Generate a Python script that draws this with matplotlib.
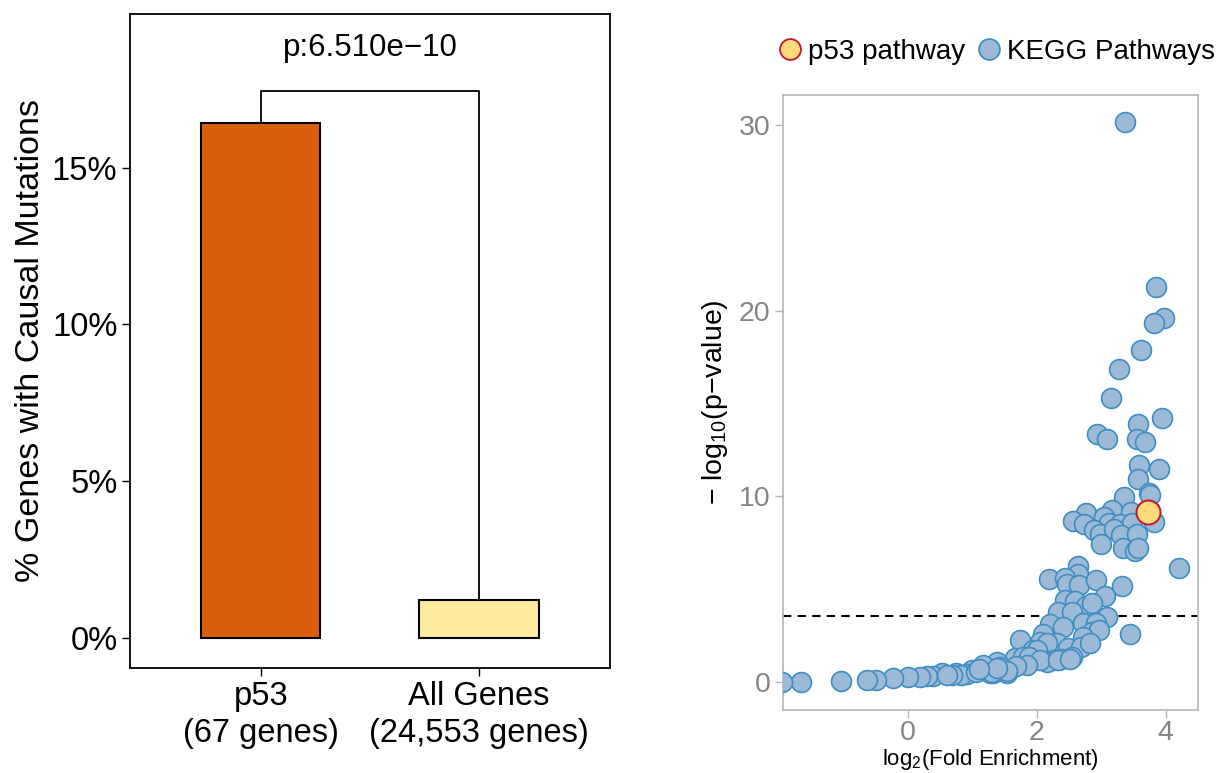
import matplotlib
matplotlib.use("Agg")
import matplotlib.pyplot as plt
from matplotlib.lines import Line2D

plt.rcParams['font.family'] = ['Liberation Sans', 'DejaVu Sans']
plt.rcParams['mathtext.fontset'] = 'custom'
plt.rcParams['mathtext.rm'] = 'Liberation Sans'
plt.rcParams['mathtext.it'] = 'Liberation Sans:italic'

# ---- left panel data ----
bar_labels = ["p53\n(67 genes)", "All Genes\n(24,553 genes)"]
bar_values = [16.42, 1.21]
bar_colors = ["#d95f0e", "#feeb9e"]
p_text = "p:6.510e\u221210"
bracket_top = 17.45
ptext_y = 18.8

# ---- right panel data ----
kegg_x = [3.37, 3.85, 3.97, 3.82, 3.61, 3.27, 3.15, 3.94, 3.57, 2.93, 3.09, 3.55, 3.67,
          3.58, 3.89, 3.57, 3.35, 3.74, 3.76,
          3.81, 3.16, 2.76, 2.56, 2.73, 3.04, 3.46, 3.12, 3.29, 3.47, 2.88, 2.98, 3.20,
          3.31, 3.56, 3.00, 3.34, 3.52, 3.57,
          2.64, 2.64, 4.21, 2.19, 2.43, 2.46, 2.66, 2.91, 3.32, 3.05, 2.43, 2.59, 2.76,
          2.86, 2.33, 2.54, 3.09, 2.20, 2.41, 2.71, 2.91, 2.86, 2.97, 3.44, 2.10, 2.72,
          1.73, 2.05, 2.31, 2.15, 2.48, 2.69, 2.82, 1.94, 2.00, 1.66, 1.79, 1.87, 2.54,
          2.38, 2.25, 2.16, 2.05, 2.33, 2.51, 1.38, 1.84, 1.67, 1.43, 1.53, 1.32, 1.27,
          1.53, 1.17, 1.30, 1.38, 0.99, 0.91, 0.75, 0.82, 0.68, 0.52, 0.39, 0.29, 0.19,
          0.00, -0.24, -0.50, -0.63, -1.04, -1.66, -1.95, 1.05, 1.10, 0.60]
kegg_y = [30.14, 21.25, 19.58, 19.35, 17.90, 16.84, 15.31, 14.23, 13.87, 13.34, 13.07, 13.09, 12.90,
          11.69, 11.45, 10.93, 9.98, 10.16, 10.05,
          8.63, 9.26, 9.12, 8.67, 8.51, 8.87, 9.17, 8.58, 8.51, 8.55, 8.17, 7.97, 8.22,
          7.92, 7.95, 7.43, 7.23, 7.05, 7.20,
          6.25, 5.82, 6.12, 5.55, 5.58, 5.28, 5.24, 5.47, 5.20, 4.65, 4.41, 4.36, 4.12,
          4.28, 3.75, 3.79, 3.50, 3.14, 2.98, 3.16, 3.16, 2.71, 2.78, 2.57, 2.60, 2.44,
          2.26, 2.17, 2.12, 2.08, 1.86, 1.90, 2.10, 1.72, 1.72, 1.30, 1.36, 1.36, 1.36,
          1.22, 1.18, 1.09, 1.18, 1.18, 1.24, 1.09, 0.92, 0.86, 0.82, 0.47, 0.47, 0.47,
          0.61, 0.93, 0.54, 0.75, 0.63, 0.45, 0.50, 0.40, 0.37, 0.48, 0.34, 0.32, 0.28,
          0.26, 0.21, 0.13, 0.13, 0.05, 0.00, 0.00, 0.55, 0.70, 0.40]
p53_x = [3.72]
p53_y = [9.15]
sig_threshold = 3.57
legend_labels = ["p53 pathway", "KEGG Pathways"]

fig = plt.figure(figsize=(12.19, 7.73), dpi=100)

# ---------------- left panel ----------------
ax1 = fig.add_axes([0.1066, 0.1358, 0.3938, 0.8462])
xpos = [0, 1]
ax1.bar(xpos, bar_values, width=0.546, color=bar_colors, edgecolor="black", linewidth=1.5, zorder=2)
ax1.plot([0, 0, 1, 1], [bar_values[0], bracket_top, bracket_top, bar_values[1]],
         color="black", linewidth=1.3, zorder=3)
ax1.text(0.5, ptext_y, p_text, ha="center", va="center", fontsize=22.5)
ax1.set_xlim(-0.6, 1.6)
ax1.set_ylim(-0.96, 19.9)
ax1.set_xticks(xpos)
ax1.set_xticklabels(bar_labels, fontsize=23.5, linespacing=1.25)
ax1.set_yticks([0, 5, 10, 15])
ax1.set_yticklabels(["0%", "5%", "10%", "15%"], fontsize=23.5)
ax1.set_ylabel("% Genes with Causal Mutations", fontsize=24.5, labelpad=4)
for s in ax1.spines.values():
    s.set_linewidth(1.3)
    s.set_color("black")
ax1.tick_params(axis="both", length=6, width=1.0, color="black", pad=3)

# ---------------- right panel ----------------
ax2 = fig.add_axes([0.6423, 0.0815, 0.3405, 0.7956])
ax2.scatter(kegg_x, kegg_y, s=205, facecolor="#9db9d8", edgecolor="#3d8fc1",
            linewidth=1.2, zorder=3)
ax2.scatter(p53_x, p53_y, s=300, facecolor="#fdd97c", edgecolor="#c0162c",
            linewidth=1.4, zorder=4)
ax2.axhline(sig_threshold, color="black", linestyle=(0, (4, 3)), linewidth=1.5, zorder=2)
ax2.set_xlim(-1.94, 4.5)
ax2.set_ylim(-1.5, 31.6)
ax2.set_xticks([0, 2, 4])
ax2.set_yticks([0, 10, 20, 30])
ax2.tick_params(axis="both", labelsize=20.5, labelcolor="#858585", color="#b5b5b5",
                length=6, width=1.0, pad=3)
ax2.tick_params(axis="x", pad=1)
for s in ax2.spines.values():
    s.set_color("#b5b5b5")
    s.set_linewidth(1.2)
ax2.set_xlabel(r"log$_2$(Fold Enrichment)", fontsize=16, labelpad=1)
ax2.set_ylabel("\u2212 log$_{10}$(p\u2212value)", fontsize=20.5, labelpad=6)

handles = [
    Line2D([], [], marker="o", linestyle="none", markersize=15, markerfacecolor="#fdd97c",
           markeredgecolor="#c0162c", markeredgewidth=1.3),
    Line2D([], [], marker="o", linestyle="none", markersize=15, markerfacecolor="#9db9d8",
           markeredgecolor="#3d8fc1", markeredgewidth=1.3),
]
fig.legend(handles, legend_labels, loc="center right", bbox_to_anchor=(1.008, 0.933),
           ncol=2, frameon=False, fontsize=20, handletextpad=0.1, columnspacing=0.3,
           handlelength=1.1, borderaxespad=0.1)

fig.savefig("out.png", dpi=100)
